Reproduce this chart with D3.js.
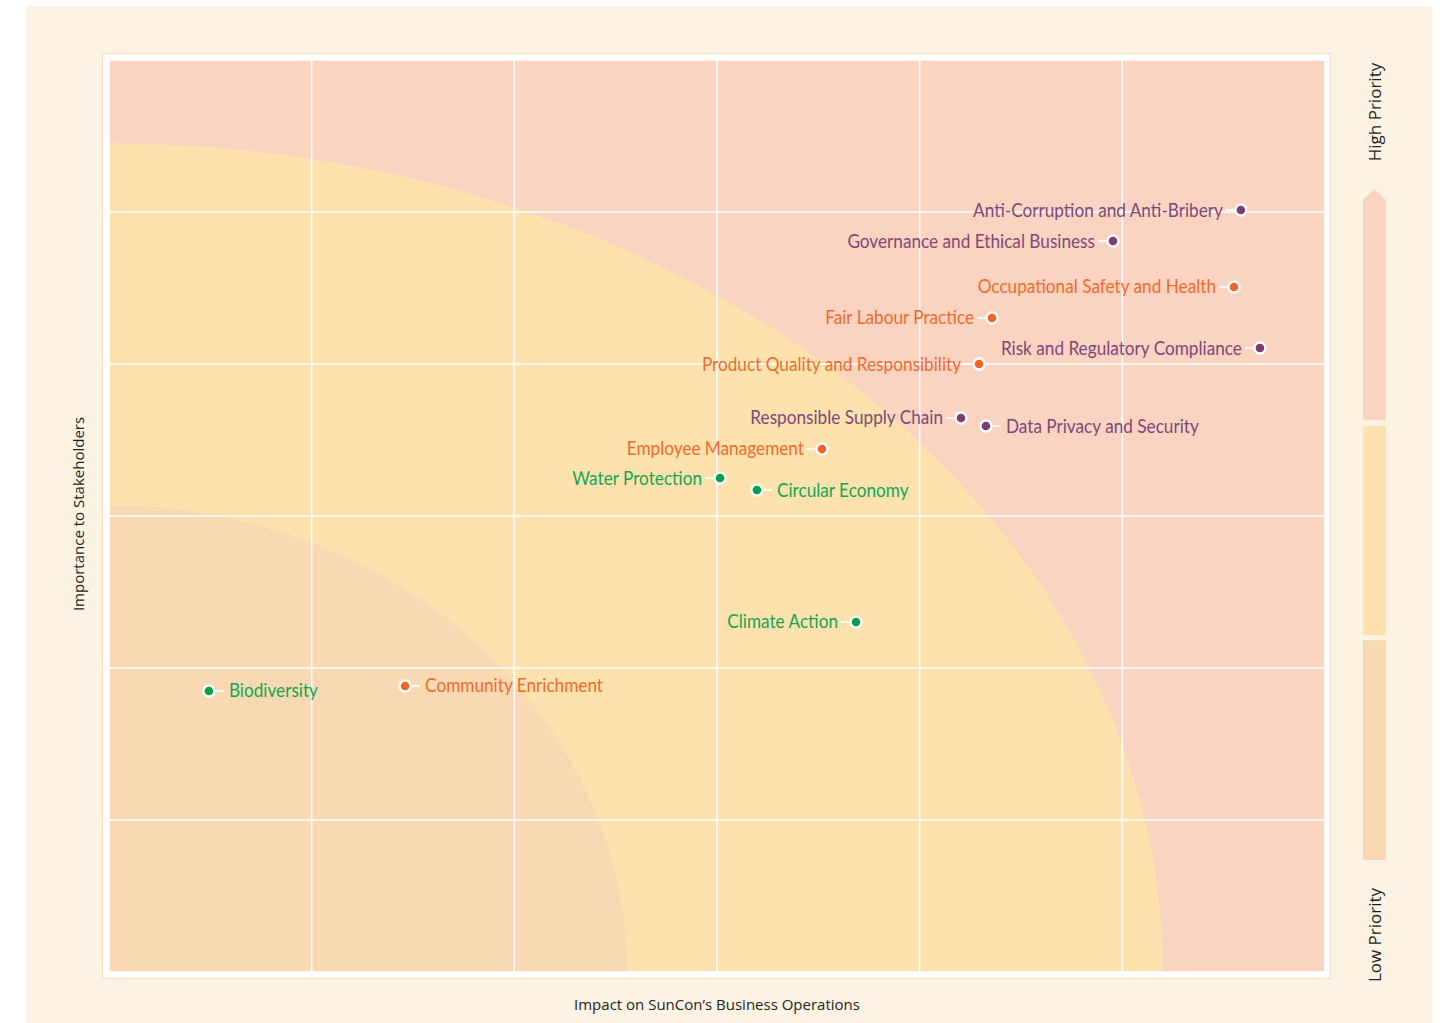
<!DOCTYPE html>
<html>
<head>
<meta charset="utf-8">
<script src="https://cdn.jsdelivr.net/npm/d3@7"></script>
<style>
  html, body { margin: 0; padding: 0; background: #ffffff; }
  svg { display: block; }
</style>
</head>
<body>
<svg id="chart" width="1448" height="1023"></svg>
<script>
// Materiality matrix: topics placed by business impact (x) and stakeholder importance (y)
const topics = ["Anti-Corruption and Anti-Bribery", "Governance and Ethical Business",
  "Occupational Safety and Health", "Fair Labour Practice", "Risk and Regulatory Compliance",
  "Product Quality and Responsibility", "Responsible Supply Chain", "Data Privacy and Security",
  "Employee Management", "Water Protection", "Circular Economy", "Climate Action",
  "Biodiversity", "Community Enrichment"];
const impact     = [5.585, 4.954, 5.551, 4.357, 5.679, 4.293, 4.204, 4.327, 3.518, 3.015, 3.197, 3.686, 0.493, 1.461];
const importance = [5.013, 4.809, 4.507, 4.303, 4.105, 4.000, 3.645, 3.592, 3.441, 3.250, 3.171, 2.303, 1.849, 1.882];
const pillar     = ["G", "G", "S", "S", "G", "S", "G", "G", "S", "E", "E", "E", "E", "S"];
const labelSide  = ["left", "left", "left", "left", "left", "left", "left", "right", "left", "left", "right", "left", "right", "right"];

// Priority zones, quarter-ellipses from the origin (radii in axis units)
const zoneNames = ["High", "Medium", "Low"];
const zoneRadiusX = [null, 5.2, 2.556];
const zoneRadiusY = [null, 5.45, 3.07];

const xTitle = "Impact on SunCon\u2019s Business Operations";
const yTitle = "Importance to Stakeholders";
const legendTop = "High Priority";
const legendBottom = "Low Priority";

const zoneFill = { High: "#fbd3c1", Medium: "#fde2ae", Low: "#f8d9b4" };
const dotFill = { G: "#7a3d70", S: "#ef6526", E: "#00a14b" };
const textFill = { G: "#7d4979", S: "#f06b2c", E: "#14a653" };

const svg = d3.select("#chart");
const W = 1448, H = 1023;
const plot = { left: 109, top: 60, right: 1325, bottom: 972 };

const x = d3.scaleLinear().domain([0, 6]).range([plot.left, plot.right]);
const y = d3.scaleLinear().domain([0, 6]).range([plot.bottom, plot.top]);

// page card
svg.append("rect").attr("x", 0).attr("y", 0).attr("width", W).attr("height", H).attr("fill", "#ffffff");
svg.append("rect").attr("x", 26).attr("y", 6).attr("width", 1407).attr("height", 1017).attr("fill", "#fdf3e3");

// white frame around the plot
svg.append("rect")
  .attr("x", plot.left - 6.5).attr("y", plot.top - 6.5)
  .attr("width", plot.right - plot.left + 12).attr("height", plot.bottom - plot.top + 13)
  .attr("fill", "#ffffff").attr("stroke", "#f6dcc4").attr("stroke-width", 1);

svg.append("defs").append("clipPath").attr("id", "plotClip")
  .append("rect")
  .attr("x", plot.left).attr("y", plot.top)
  .attr("width", plot.right - plot.left).attr("height", plot.bottom - plot.top);

const zones = svg.append("g").attr("clip-path", "url(#plotClip)");
zones.append("rect")
  .attr("x", plot.left).attr("y", plot.top)
  .attr("width", plot.right - plot.left).attr("height", plot.bottom - plot.top)
  .attr("fill", zoneFill.High);
zoneNames.forEach((z, i) => {
  if (zoneRadiusX[i] == null) return;
  zones.append("ellipse")
    .attr("cx", x(0)).attr("cy", y(0))
    .attr("rx", x(zoneRadiusX[i]) - x(0))
    .attr("ry", y(0) - y(zoneRadiusY[i]))
    .attr("fill", zoneFill[z]);
});

// grid
const grid = svg.append("g").attr("stroke", "#ffffff").attr("stroke-width", 1.6);
x.ticks(6).forEach(t => {
  grid.append("line").attr("x1", x(t)).attr("x2", x(t)).attr("y1", plot.top).attr("y2", plot.bottom);
});
y.ticks(6).forEach(t => {
  grid.append("line").attr("x1", plot.left).attr("x2", plot.right).attr("y1", y(t)).attr("y2", y(t));
});

// axis titles
svg.append("text")
  .attr("x", (plot.left + plot.right) / 2).attr("y", 1010)
  .attr("text-anchor", "middle")
  .attr("font-family", "'Open Sans', sans-serif").attr("font-size", 15)
  .attr("fill", "#231f20").text(xTitle);
svg.append("text")
  .attr("transform", `translate(84, ${(plot.top + plot.bottom) / 2 - 2}) rotate(-90)`)
  .attr("text-anchor", "middle")
  .attr("font-family", "'Open Sans', sans-serif").attr("font-size", 15)
  .attr("fill", "#231f20").text(yTitle);

// points and labels
const condense = 0.86;
const pts = svg.append("g");
topics.forEach((name, i) => {
  const cx = x(impact[i]), cy = y(importance[i]);
  const dir = labelSide[i] === "left" ? -1 : 1;
  pts.append("line")
    .attr("x1", cx).attr("x2", cx + dir * 15)
    .attr("y1", cy).attr("y2", cy)
    .attr("stroke", "#ffffff").attr("stroke-width", 1.6);
  pts.append("circle")
    .attr("cx", cx).attr("cy", cy).attr("r", 5.5)
    .attr("fill", dotFill[pillar[i]])
    .attr("stroke", "#ffffff").attr("stroke-width", 2.4);
  pts.append("text")
    .attr("transform", `translate(${cx + dir * (dir < 0 ? 18 : 20)}, ${cy - 1}) scale(${condense}, 1)`)
    .attr("text-anchor", dir < 0 ? "end" : "start")
    .attr("dominant-baseline", "central")
    .attr("font-family", "Lato, sans-serif").attr("font-size", 20)
    .attr("fill", textFill[pillar[i]])
    .text(name);
});

// priority legend bar
const bar = { x: 1363, w: 23 };
const legendY = d3.scaleLinear().domain([0, 1]).range([860, 200]);
const segs = [
  { z: "Low", from: 0, to: 0.333 },
  { z: "Medium", from: 0.3407, to: 0.6573 },
  { z: "High", from: 0.6664, to: 1 }
];
segs.forEach(s => {
  const y0 = legendY(s.from), y1 = legendY(s.to);
  if (s.z === "High") {
    svg.append("path")
      .attr("d", `M${bar.x},${y0} L${bar.x},${y1} L${bar.x + bar.w / 2},${y1 - 11} L${bar.x + bar.w},${y1} L${bar.x + bar.w},${y0} Z`)
      .attr("fill", zoneFill[s.z]);
  } else {
    svg.append("rect").attr("x", bar.x).attr("y", y1).attr("width", bar.w).attr("height", y0 - y1)
      .attr("fill", zoneFill[s.z]);
  }
});
svg.append("text")
  .attr("transform", `translate(1381, 112) rotate(-90)`)
  .attr("text-anchor", "middle")
  .attr("font-family", "'Open Sans', sans-serif").attr("font-size", 17)
  .attr("fill", "#231f20").text(legendTop);
svg.append("text")
  .attr("transform", `translate(1381, 935) rotate(-90)`)
  .attr("text-anchor", "middle")
  .attr("font-family", "'Open Sans', sans-serif").attr("font-size", 17)
  .attr("fill", "#231f20").text(legendBottom);
</script>
</body>
</html>
